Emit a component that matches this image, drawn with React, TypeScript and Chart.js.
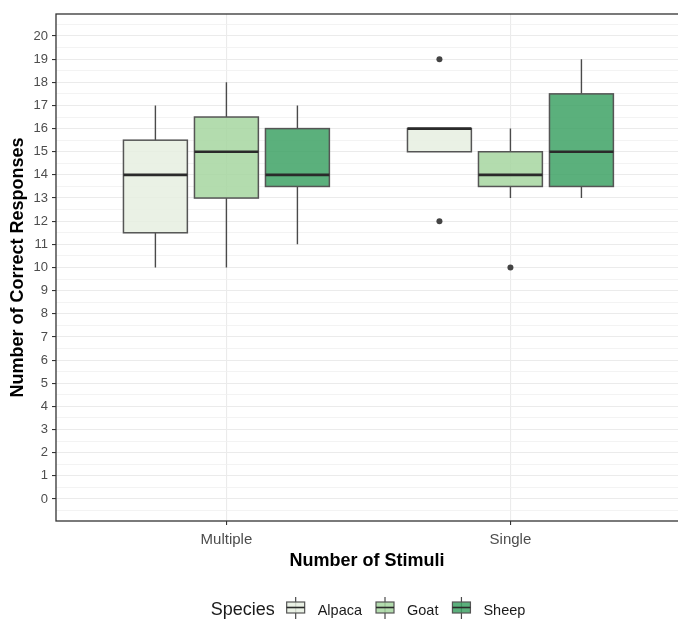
import React, { useEffect, useRef } from 'react';
import { Chart, registerables } from 'chart.js';

Chart.register(...registerables);

// ---------------- data ----------------
const categories = ['Multiple', 'Single'];
const species = ['Alpaca', 'Goat', 'Sheep'];
const speciesColors = ['rgba(230,239,224,0.85)', 'rgba(166,214,160,0.85)', 'rgba(62,162,101,0.85)'];

// [lower whisker, Q1, median, Q3, upper whisker], one entry per category
const alpacaStats = [
  [10, 11.5, 14, 15.5, 17],
  [15, 15, 16, 16, 16],
];
const goatStats = [
  [10, 13, 15, 16.5, 18],
  [13, 13.5, 14, 15, 16],
];
const sheepStats = [
  [11, 13.5, 14, 16, 17],
  [13, 13.5, 15, 17.5, 19],
];
// outliers, one list per category
const alpacaOutliers = [[], [12, 19]];
const goatOutliers = [[], [10]];
const sheepOutliers = [[], []];

const yTickValues = [0, 1, 2, 3, 4, 5, 6, 7, 8, 9, 10, 11, 12, 13, 14, 15, 16, 17, 18, 19, 20];

const allStats = [alpacaStats, goatStats, sheepStats];
const allOutliers = [alpacaOutliers, goatOutliers, sheepOutliers];

const FONT = "'Liberation Sans', Arial, Helvetica, sans-serif";
const DODGE = 0.25;
const BOX_HALF = 0.1125;

const outlierPoints: { x: number; y: number }[] = [];
allOutliers.forEach((perCat, s) =>
  perCat.forEach((vals, g) =>
    vals.forEach((v) => outlierPoints.push({ x: g + 1 + (s - 1) * DODGE, y: v }))
  )
);

const boxPlugin = {
  id: 'boxes',
  beforeDatasetsDraw(chart: any) {
    const { ctx, chartArea, scales } = chart;
    const x = scales.x;
    const y = scales.y;
    ctx.save();
    ctx.beginPath();
    ctx.rect(chartArea.left, chartArea.top, chartArea.right - chartArea.left, chartArea.bottom - chartArea.top);
    ctx.clip();
    allStats.forEach((stats, s) => {
      stats.forEach((st, g) => {
        const xv = g + 1 + (s - 1) * DODGE;
        const cx = x.getPixelForValue(xv);
        const l = x.getPixelForValue(xv - BOX_HALF);
        const r = x.getPixelForValue(xv + BOX_HALF);
        const [lo, q1, med, q3, hi] = st.map((v) => y.getPixelForValue(v));
        ctx.strokeStyle = '#4a4a4a';
        ctx.lineWidth = 1.4;
        ctx.beginPath();
        ctx.moveTo(cx, hi);
        ctx.lineTo(cx, q3);
        ctx.moveTo(cx, q1);
        ctx.lineTo(cx, lo);
        ctx.stroke();
        ctx.fillStyle = speciesColors[s];
        ctx.fillRect(l, q3, r - l, q1 - q3);
        ctx.strokeStyle = '#555555';
        ctx.lineWidth = 1.5;
        ctx.strokeRect(l, q3, r - l, q1 - q3);
        ctx.strokeStyle = '#2a2a2a';
        ctx.lineWidth = 2.6;
        ctx.beginPath();
        ctx.moveTo(l, med);
        ctx.lineTo(r, med);
        ctx.stroke();
      });
    });
    ctx.restore();
  },
};

const framePlugin = {
  id: 'frame',
  afterDraw(chart: any) {
    const { ctx, chartArea } = chart;
    ctx.save();
    ctx.strokeStyle = '#333333';
    ctx.lineWidth = 1.3;
    ctx.strokeRect(chartArea.left, chartArea.top, chartArea.right + 20 - chartArea.left, chartArea.bottom - chartArea.top);
    ctx.restore();
  },
};

const legendPlugin = {
  id: 'customLegend',
  afterDraw(chart: any) {
    const { ctx, chartArea } = chart;
    const centerX = (chartArea.left + 680) / 2;
    const baseY = 615;
    const iconW = 18;
    const gapTitle = 12;
    const gapIconText = 13;
    const gapItem = 14;
    ctx.save();
    ctx.font = `18px ${FONT}`;
    const titleW = ctx.measureText('Species').width;
    ctx.font = `14.5px ${FONT}`;
    const textWs = species.map((sp) => ctx.measureText(sp).width);
    let total = titleW + gapTitle;
    textWs.forEach((w, i) => {
      total += iconW + gapIconText + w + (i < textWs.length - 1 ? gapItem : 0);
    });
    let xPos = centerX - total / 2;
    ctx.textBaseline = 'alphabetic';
    ctx.textAlign = 'left';
    ctx.fillStyle = '#1a1a1a';
    ctx.font = `18px ${FONT}`;
    ctx.fillText('Species', xPos, baseY);
    xPos += titleW + gapTitle;
    species.forEach((sp, i) => {
      const cx = xPos + iconW / 2;
      ctx.strokeStyle = '#4a4a4a';
      ctx.lineWidth = 1.2;
      ctx.beginPath();
      ctx.moveTo(cx, 597);
      ctx.lineTo(cx, 619);
      ctx.stroke();
      ctx.fillStyle = speciesColors[i];
      ctx.fillRect(xPos, 602, iconW, 11);
      ctx.strokeStyle = '#555555';
      ctx.strokeRect(xPos, 602, iconW, 11);
      ctx.strokeStyle = '#2a2a2a';
      ctx.lineWidth = 1.6;
      ctx.beginPath();
      ctx.moveTo(xPos, 607.5);
      ctx.lineTo(xPos + iconW, 607.5);
      ctx.stroke();
      xPos += iconW + gapIconText;
      ctx.fillStyle = '#1a1a1a';
      ctx.font = `14.5px ${FONT}`;
      ctx.fillText(sp, xPos, baseY);
      xPos += textWs[i] + gapItem;
    });
    ctx.restore();
  },
};

export default function App() {
  const canvasRef = useRef<HTMLCanvasElement | null>(null);

  useEffect(() => {
    if (!canvasRef.current) return;
    const yAll: number[] = [-0.5];
    yTickValues.forEach((v) => {
      yAll.push(v);
      yAll.push(v + 0.5);
    });
    const chart = new Chart(canvasRef.current, {
      type: 'scatter',
      data: {
        datasets: [
          {
            label: 'outliers',
            data: outlierPoints,
            pointRadius: 3,
            pointHoverRadius: 3,
            pointBackgroundColor: '#444444',
            pointBorderColor: '#444444',
            pointBorderWidth: 0,
          },
        ],
      },
      options: {
        responsive: false,
        animation: false,
        events: [],
        layout: { autoPadding: false, padding: { left: 0, top: 14, right: 0, bottom: 40 } },
        plugins: {
          legend: { display: false },
          tooltip: { enabled: false },
        },
        scales: {
          x: {
            type: 'linear',
            min: 0.4,
            max: 2.59,
            afterBuildTicks: (s: any) => {
              s.ticks = categories.map((_, i) => ({ value: i + 1 }));
            },
            afterFit: (s: any) => {
              s.height = 58;
            },
            ticks: {
              autoSkip: false,
              maxRotation: 0,
              padding: 6,
              color: '#4D4D4D',
              font: { family: FONT, size: 15 },
              callback: (v: any) => categories[Math.round(v) - 1] ?? '',
            },
            grid: { color: '#EBEBEB', lineWidth: 1.1, tickLength: 4, tickColor: '#333333', tickWidth: 1.1 },
            border: { display: false },
            title: {
              display: true,
              text: 'Number of Stimuli',
              color: '#000000',
              font: { family: FONT, size: 18, weight: 'bold' },
              padding: { top: 0, bottom: 7 },
            },
          },
          y: {
            type: 'linear',
            min: -0.95,
            max: 20.95,
            afterBuildTicks: (s: any) => {
              s.ticks = yAll.map((v) => ({ value: v }));
            },
            afterFit: (s: any) => {
              s.width = 56;
            },
            ticks: {
              autoSkip: false,
              padding: 4,
              color: '#4D4D4D',
              font: { family: FONT, size: 13 },
              callback: (v: any) => (Number.isInteger(v) ? String(v) : ''),
            },
            grid: {
              color: (c: any) => (c.tick && !Number.isInteger(c.tick.value) ? '#F0F0F0' : '#EBEBEB'),
              lineWidth: (c: any) => (c.tick && !Number.isInteger(c.tick.value) ? 0.8 : 1.1),
              tickLength: 4,
              tickColor: (c: any) => (c.tick && !Number.isInteger(c.tick.value) ? 'rgba(0,0,0,0)' : '#333333'),
              tickWidth: 1.1,
            },
            border: { display: false },
            title: {
              display: true,
              text: 'Number of Correct Responses',
              color: '#000000',
              font: { family: FONT, size: 18, weight: 'bold' },
              padding: { top: 7, bottom: 0 },
            },
          },
        },
      },
      plugins: [boxPlugin, framePlugin, legendPlugin],
    } as any);
    return () => chart.destroy();
  }, []);

  return (
    <div style={{ position: 'fixed', left: 0, top: 0, width: 678, height: 619, background: '#ffffff' }}>
      <canvas ref={canvasRef} width={678} height={619} style={{ width: 678, height: 619, display: 'block' }} />
    </div>
  );
}
